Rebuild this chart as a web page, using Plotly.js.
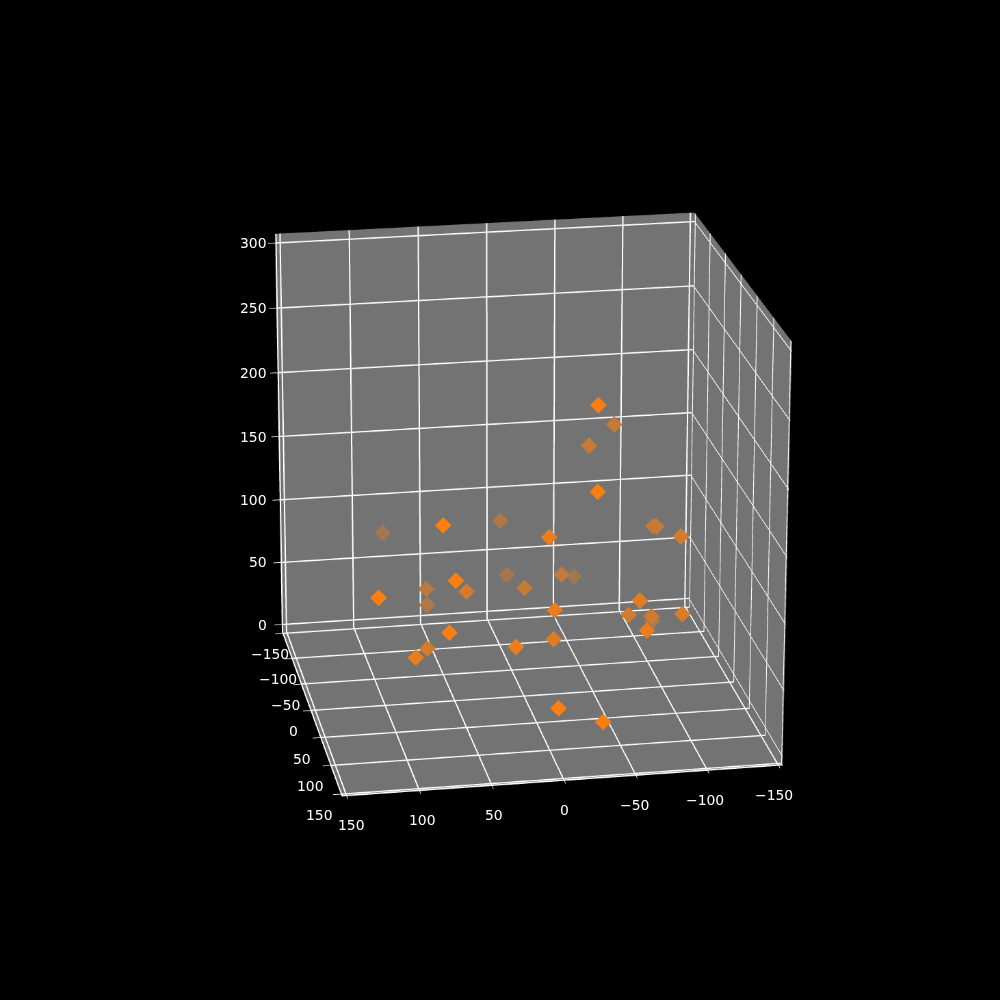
<!DOCTYPE html>
<html>
<head>
<meta charset="utf-8">
<script src="https://cdn.plot.ly/plotly-3.0.1.min.js"></script>
<style>
html,body{margin:0;background:#000;overflow:hidden}
#frame{position:relative;width:1000px;height:1000px;overflow:hidden}
/* plot is oversized and cropped: plotly's field of view is fixed, so a weak perspective needs a far eye and a big canvas */
#chart{position:absolute;left:-1471px;top:-1471px;width:3940px;height:3940px}
</style>
</head>
<body>
<div id="frame"><div id="chart"></div></div>
<script>
// =====================
// DATA
// =====================
const xValues = [-26, -68, -50, -26, -97, -104, -108, -1, 1, 82, 81, -11, -35, -63, -4, 71, 45, 60, 55, 126, -5, -70, -71, -92, -116, -70, -105, 78, 73, 92, 22, -13, 3, -31];
const yValues = [132, -21, -21, 132, -21, -43, 21, 89, -92, 147, -132, -132, -43, -141, -21, 132, 21, -64, -92, 147, 89, 64, 21, 0, -110, 89, 43, 147, 21, 89, 89, 43, 147, 132];
const zValues = [262, 192, 177, 199, 112, 103, 119, 151, 96, 187, 77, 37, 70, 29, 70, 140, 87, 57, 33, 137, 96, 89, 61, 50, 1, 76, 68, 108, 45, 67, 70, 55, 46, 27];
const tickVals = [-150, -100, -50, 0, 50, 100, 150];
const zTickVals = [0, 50, 100, 150, 200, 250, 300];

// box limits, a little wider than the outer ticks
const xyLimit = 153;
const zLow = -6;
const zHigh = 307;

// depth shading: further from the viewer fades into the grey pane
function shade(y) {
    const a = 0.3 + 0.7 * (y + 150) / 300;
    const mix = (c, bg) => Math.round(a * c + (1 - a) * bg);
    return `rgb(${mix(255, 115)},${mix(127, 115)},${mix(14, 115)})`;
}
const markerColors = yValues.map(shade);

// =====================
// TRACES
// =====================
const trace = {
    type: "scatter3d",
    mode: "markers",
    x: xValues,
    y: yValues,
    z: zValues,
    marker: { symbol: "diamond", size: 4, color: markerColors, line: { width: 0 } }
};

// =====================
// TICK LABELS
// =====================
// gl3d puts its own labels too close to the box, so they are scene annotations
function tickLabel(x, y, z, value, xshift, yshift, anchor) {
    return {
        x: x, y: y, z: z,
        text: String(value).replace("-", "\u2212"),
        showarrow: false,
        xanchor: anchor,
        yanchor: "middle",
        xshift: xshift,
        yshift: yshift,
        font: { family: "DejaVu Sans", size: 13.9, color: "#ffffff" }
    };
}
const tickLabels = [
    ...tickVals.map(v => tickLabel(v, xyLimit, zLow, v, 0.5 + v * 0.03, -29.5, "center")),
    ...tickVals.map(v => tickLabel(xyLimit, v, zLow, v, -17.5 - v * 0.033, -21, "center")),
    ...zTickVals.map(v => tickLabel(xyLimit, -xyLimit, v, v, -13.5 + v * 0.022, 0, "right"))
];

// =====================
// LAYOUT
// =====================
const axisStyle = {
    showbackground: true,
    backgroundcolor: "#737373",
    gridcolor: "#ffffff",
    gridwidth: 2,
    zeroline: false,
    showline: true,
    linecolor: "#ffffff",
    linewidth: 2,
    ticks: "outside",
    tickcolor: "#ffffff",
    ticklen: 5,
    showticklabels: false,
    showspikes: false,
    title: { text: "" }
};

const layout = {
    width: 3940,
    height: 3940,
    margin: { l: 0, r: 0, t: 0, b: 0 },
    paper_bgcolor: "#000000",
    showlegend: false,
    scene: {
        bgcolor: "#000000",
        domain: { x: [0, 1], y: [0, 1] },
        aspectmode: "manual",
        aspectratio: { x: 1, y: 1, z: 1 },
        camera: {
            eye: { x: 1.84, y: 10.08, z: 3.72 },
            center: { x: 0.057, y: -0.011, z: -0.012 },
            up: { x: 0, y: 0, z: 1 },
            projection: { type: "perspective" }
        },
        annotations: tickLabels,
        xaxis: Object.assign({}, axisStyle, { range: [-xyLimit, xyLimit], tickvals: tickVals }),
        yaxis: Object.assign({}, axisStyle, { range: [-xyLimit, xyLimit], tickvals: tickVals }),
        zaxis: Object.assign({}, axisStyle, { range: [zLow, zHigh], tickvals: zTickVals })
    }
};

Plotly.newPlot("chart", [trace], layout, { displayModeBar: false });
</script>
</body>
</html>
